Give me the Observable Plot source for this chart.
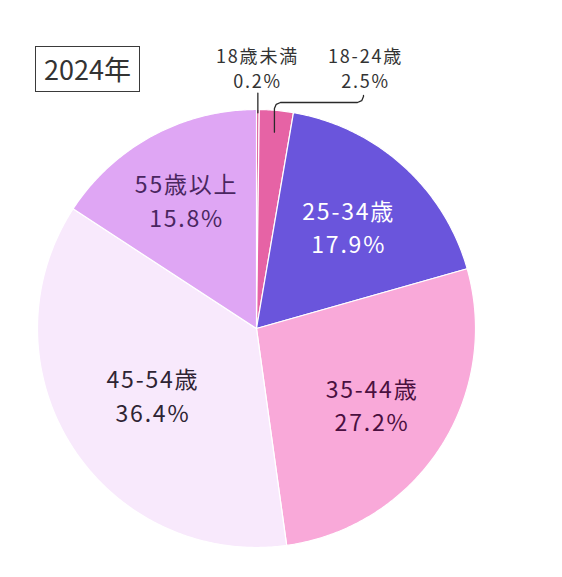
<!DOCTYPE html>
<html>
<head>
<meta charset="utf-8">
<script src="https://cdn.jsdelivr.net/npm/d3@7"></script>
<script src="https://cdn.jsdelivr.net/npm/@observablehq/plot@0.6"></script>
<style>
  body { margin: 0; background: #fff; }
  #wrap { position: relative; width: 562px; height: 577px; font-family: "Noto Sans CJK JP", "Noto Sans", sans-serif; }
  #title { position: absolute; left: 35px; top: 46px; width: 103px; height: 44px; border: 1.6px solid #3a3a3a;
           font-size: 27px; line-height: 44px; text-align: center; color: #333; }
  #wrap svg text { letter-spacing: 1.8px; }
</style>
</head>
<body>
<div id="wrap"><div id="title">2024年</div></div>
<script>
// ---- data ----
const categories = ["18歳未満", "18-24歳", "25-34歳", "35-44歳", "45-54歳", "55歳以上"];
const shares     = [0.2, 2.5, 17.9, 27.2, 36.4, 15.8];
const pctLabels  = ["0.2%", "2.5%", "17.9%", "27.2%", "36.4%", "15.8%"];
const sliceColors = ["#d9508f", "#e663a5", "#6a55dc", "#f9a9d9", "#f8e9fc", "#dfa6f4"];
const textColors  = ["#333333", "#333333", "#ffffff", "#4a1040", "#2e2433", "#4a2660"];

// ---- layout ----
const W = 562, H = 577, cx = 256, cy = 328, R = 219;
const labelR = {"25-34歳": 0.63, "35-44歳": 0.63, "45-54歳": 0.56, "55歳以上": 0.67};
const px = (x) => (x - cx) / R, py = (y) => (cy - y) / R;

const total = d3.sum(shares);
let acc = 0;
const slices = categories.map((c, i) => {
  const a0 = acc / total * 2 * Math.PI;
  acc += shares[i];
  const a1 = acc / total * 2 * Math.PI;
  return {category: c, a0, a1, mid: (a0 + a1) / 2, color: sliceColors[i], textColor: textColors[i], text: c + "\n" + pctLabels[i]};
});
const polar = (a, r) => ({x: r * Math.sin(a), y: r * Math.cos(a)});

// wedge outlines
const wedgePts = [];
for (const s of slices) {
  const n = Math.max(2, Math.ceil((s.a1 - s.a0) / (Math.PI / 360)));
  wedgePts.push({category: s.category, color: s.color, x: 0, y: 0});
  for (let k = 0; k <= n; k++) {
    const p = polar(s.a0 + (s.a1 - s.a0) * k / n, 1);
    wedgePts.push({category: s.category, color: s.color, ...p});
  }
  wedgePts.push({category: s.category, color: s.color, x: 0, y: 0});
}

const inner = slices.filter(s => labelR[s.category]).map(s => ({...s, ...polar(s.mid, labelR[s.category])}));

// small slice labels above the pie
const sUnder = slices[0], s1824 = slices[1];
const outer = [
  {text: sUnder.text, x: px(257), y: py(67)},
  {text: s1824.text, x: px(365), y: py(67)}
];

// leader lines
const pU0 = polar(sUnder.mid, 0.985), pU1 = polar(sUnder.mid, 1.075);
const leaderU = [pU0, {x: pU0.x, y: pU1.y}];
const st = polar(s1824.mid, 0.9);
const sx = cx + st.x * R;
const leader2 = [
  [sx, cy - st.y * R], [sx, 108], [sx + 1.8, 103.8], [sx + 6, 102],
  [357, 102], [361.2, 100.2], [363, 96], [363, 95]
].map(([x, y]) => ({x: px(x), y: py(y)}));

const chart = Plot.plot({
  width: W, height: H,
  marginTop: 0, marginRight: 0, marginBottom: 0, marginLeft: 0,
  x: {domain: [-1, 1], range: [cx - R, cx + R], axis: null},
  y: {domain: [-1, 1], range: [cy + R, cy - R], axis: null},
  color: {type: "identity"},
  style: {fontFamily: "'Noto Sans CJK JP', 'Noto Sans', sans-serif", background: "transparent"},
  marks: [
    Plot.line(wedgePts, {x: "x", y: "y", z: "category", fill: "color", stroke: "#ffffff", strokeWidth: 1.2, curve: "linear", strokeLinejoin: "round"}),
    Plot.line(leaderU, {x: "x", y: "y", stroke: "#2a2a2a", strokeWidth: 1.3}),
    Plot.line(leader2, {x: "x", y: "y", stroke: "#2a2a2a", strokeWidth: 1.3}),
    Plot.text(inner, {x: "x", y: "y", text: "text", fill: "textColor", fontSize: 23, lineHeight: 1.45}),
    Plot.text(outer, {x: "x", y: "y", text: "text", fill: "#333333", fontSize: 18, lineHeight: 1.38})
  ]
});
document.getElementById("wrap").prepend(chart);
chart.style.position = "absolute";
chart.style.left = "0";
chart.style.top = "0";
</script>
</body>
</html>
